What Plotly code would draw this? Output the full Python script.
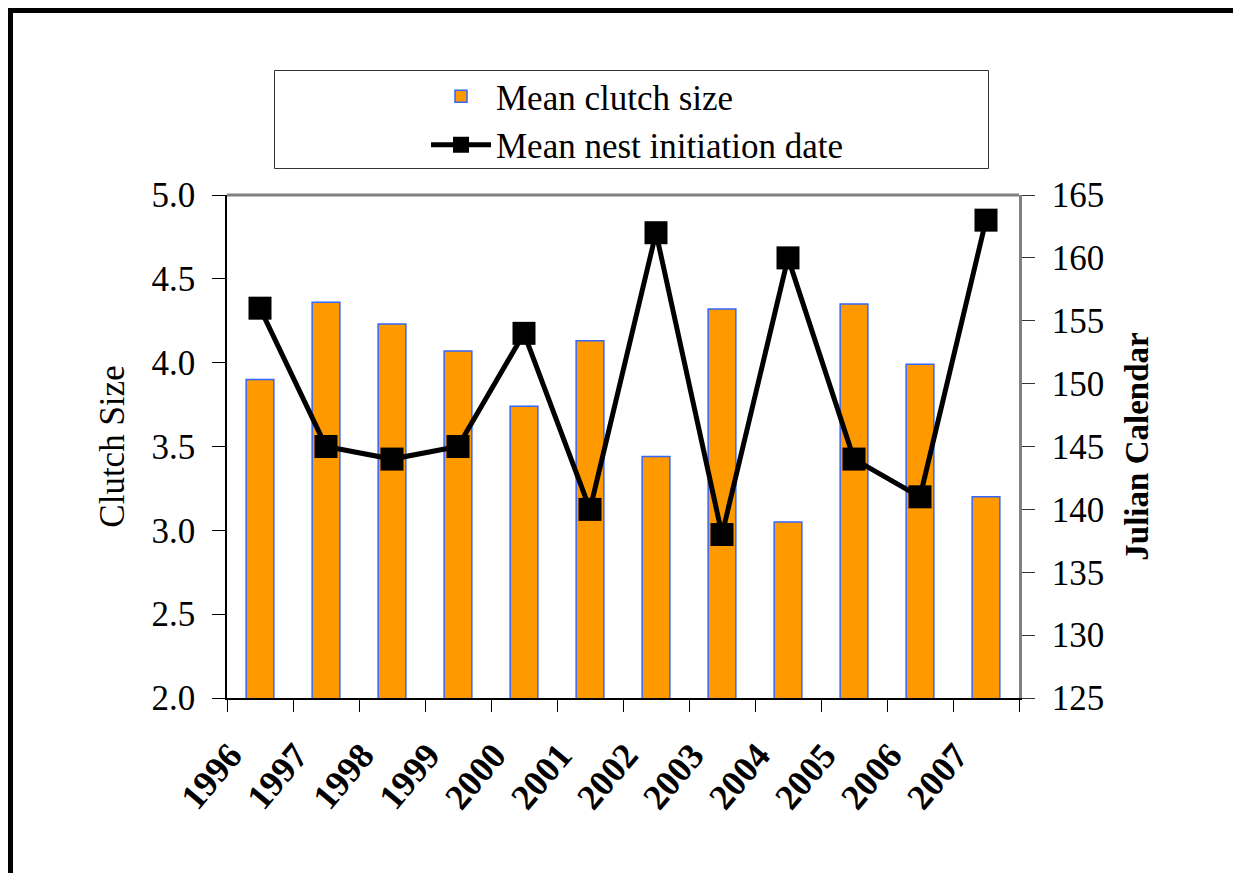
import plotly.graph_objects as go

years = ['1996', '1997', '1998', '1999', '2000', '2001', '2002', '2003', '2004', '2005', '2006', '2007']
clutch_size = [3.90, 4.36, 4.23, 4.07, 3.74, 4.13, 3.44, 4.32, 3.05, 4.35, 3.99, 3.20]
nest_date = [156, 145, 144, 145, 154, 140, 162, 138, 160, 144, 141, 163]

OFF = 8  # page body margin
W, H = 1241 - OFF, 873 - OFF
PL, PR, PT, PB = 227, 1019, 195, 698  # plot area in screenshot pixels
L, R, T, B = PL - OFF, W - (PR - OFF), PT - OFF, H - (PB - OFF)
PW, PH = W - L - R, H - T - B

def px(x):
    return (x - PL) / PW

def py(y):
    return (PB - y) / PH

FONT = "Liberation Serif"
xpos = [i + 0.5 for i in range(len(years))]

fig = go.Figure()
fig.add_trace(go.Bar(
    x=xpos, y=clutch_size, name="Mean clutch size", width=0.42,
    marker=dict(color="#FF9900", line=dict(color="#3366FF", width=1.5)),
    yaxis="y",
))
fig.add_trace(go.Scatter(
    x=xpos, y=nest_date, name="Mean nest initiation date", mode="lines+markers",
    line=dict(color="black", width=5),
    marker=dict(symbol="square", size=23, color="black"),
    yaxis="y2",
))

tickfont = dict(family=FONT, size=35, color="black")

fig.update_layout(
    width=W, height=H,
    margin=dict(l=L, r=R, t=T, b=B, autoexpand=False),
    plot_bgcolor="white", paper_bgcolor="white",
    showlegend=True,
    legend=dict(
        x=px(426), y=py(67), xanchor="left", yanchor="top",
        font=dict(family=FONT, size=35, color="black"),
        bgcolor="rgba(0,0,0,0)", borderwidth=0, itemwidth=60,
        tracegroupgap=0,
    ),
    xaxis=dict(
        range=[0, len(years)], tickmode="array",
        tickvals=list(range(len(years) + 1)), ticktext=years + [""],
        ticks="outside", ticklen=12, tickcolor="black", tickwidth=1,
        showline=True, linecolor="black", linewidth=1.5,
        showgrid=False, zeroline=False, tickangle=-50,
        ticklabelshift=3, ticklabelstandoff=8,
        tickfont=dict(family=FONT, size=36, color="black", weight="bold"),
        fixedrange=True,
    ),
    yaxis=dict(
        range=[2, 5], dtick=0.5, tickformat=".1f",
        ticks="outside", ticklen=13, tickcolor="black", ticklabelstandoff=10,
        showline=True, linecolor="black", linewidth=1.5,
        showgrid=False, zeroline=False, tickfont=tickfont,
        title=dict(text="Clutch Size", font=dict(family=FONT, size=35, color="black"), standoff=16),
    ),
    yaxis2=dict(
        range=[125, 165], dtick=5, overlaying="y", side="right", anchor="x",
        ticks="outside", ticklen=13, tickcolor="#333333", ticklabelstandoff=10,
        showline=True, linecolor="#808080", linewidth=2.5,
        showgrid=False, zeroline=False, tickfont=tickfont,
        title=dict(text="Julian Calendar", font=dict(family=FONT, size=33, color="black", weight="bold"), standoff=22),
    ),
    yaxis3=dict(
        range=[2, 5], dtick=0.5, overlaying="y", side="left", anchor="x",
        ticks="inside", ticklen=13, tickcolor="black", showticklabels=False,
        showline=False, showgrid=False, zeroline=False,
    ),
    yaxis4=dict(
        range=[125, 165], dtick=5, overlaying="y", side="right", anchor="x",
        ticks="inside", ticklen=13, tickcolor="#333333", showticklabels=False,
        showline=False, showgrid=False, zeroline=False,
    ),
    shapes=[
        # plot frame top (gray)
        dict(type="line", xref="paper", yref="paper", x0=0, x1=1, y0=1, y1=1,
             line=dict(color="#808080", width=3), layer="above"),
        # legend box
        dict(type="rect", xref="paper", yref="paper", x0=px(274.5), x1=px(988.5),
             y0=py(70.5), y1=py(168.5), line=dict(color="#333333", width=1)),
        # outer border
        dict(type="line", xref="paper", yref="paper", x0=px(8), x1=px(1241), y0=py(10.5), y1=py(10.5),
             line=dict(color="black", width=5)),
        dict(type="line", xref="paper", yref="paper", x0=px(10.5), x1=px(10.5), y0=py(8), y1=py(880),
             line=dict(color="black", width=5)),
        dict(type="line", xref="paper", yref="paper", x0=px(1239), x1=px(1239), y0=py(8), y1=py(880),
             line=dict(color="black", width=2)),
    ],
)

fig.write_html("out.html")
